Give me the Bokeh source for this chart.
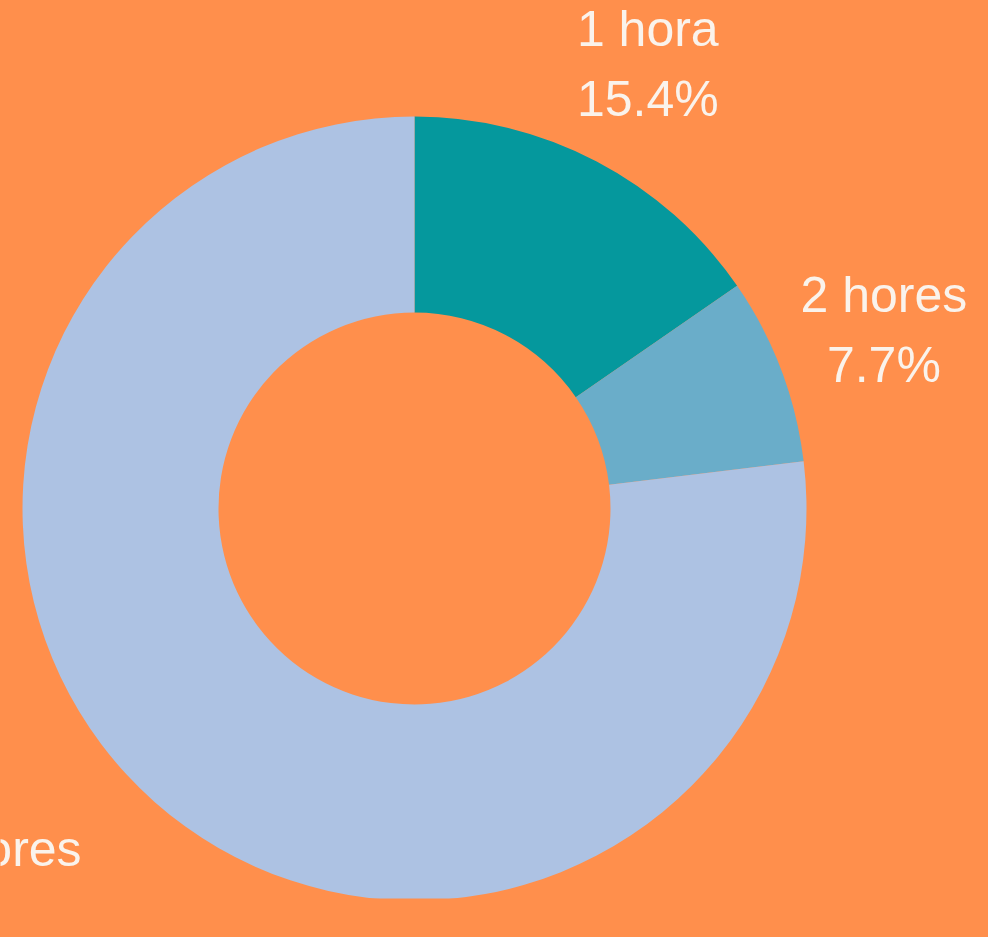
import math
from jinja2 import Template
from bokeh.plotting import figure
from bokeh.models import Range1d, ColumnDataSource
from bokeh.core.properties import value
from bokeh.embed import file_html
from bokeh.resources import INLINE

# ---- data ----
categories = ["1 hora", "2 hores", "3 hores"]
counts = [2, 1, 10]
colors = ["#05989D", "#6AADC9", "#ADC2E3"]

BG = "#FF8F4C"
TXT = "#FAF3EC"

total = sum(counts)
pcts = [f"{100 * c / total:.1f}%" for c in counts]

# wedge angles: clockwise from 12 o'clock
starts, ends, mids = [], [], []
cum = 0.0
for c in counts:
    a0 = cum / total * 2 * math.pi
    cum += c
    a1 = cum / total * 2 * math.pi
    starts.append(math.pi / 2 - a1)
    ends.append(math.pi / 2 - a0)
    mids.append((a0 + a1) / 2)

R_OUT = 392
R_IN = 196
R_LAB = 502
HALF = 35

lx = [R_LAB * math.sin(m) for m in mids]
ly = [R_LAB * math.cos(m) for m in mids]
align = ["right" if math.sin(m) < -0.3 else "center" for m in mids]

src = ColumnDataSource(dict(start=starts, end=ends, color=colors,
                            cat=categories, pct=pcts,
                            lx=lx, ly_name=[y + HALF for y in ly],
                            ly_pct=[y - HALF for y in ly], align=align))

W, H = 972, 921
p = figure(width=W, height=H, output_backend="svg", toolbar_location=None,
           x_range=Range1d(-414, 558), y_range=Range1d(-390, 508),
           min_border_left=0, min_border_right=0, min_border_top=0,
           min_border_bottom=23)
p.axis.visible = False
p.grid.visible = False
p.outline_line_color = None
p.background_fill_color = BG
p.border_fill_color = BG

p.annular_wedge(x=0, y=0, inner_radius=R_IN, outer_radius=R_OUT,
                start_angle="start", end_angle="end", color="color",
                line_color=None, source=src)

p.text(x="lx", y="ly_name", text="cat", source=src, text_align="align",
       text_baseline="middle", text_font=value("Liberation Sans"),
       text_font_size="50px", text_color=TXT)
p.text(x="lx", y="ly_pct", text="pct", source=src, text_align="align",
       text_baseline="middle", text_font=value("Liberation Sans"),
       text_font_size="50px", text_color=TXT)

template = Template("""{% extends base %}
{% block preamble %}<style>html, body { background: #FF8F4C; }</style>{% endblock %}""")

open("out.html", "w").write(file_html(p, INLINE, template=template))
